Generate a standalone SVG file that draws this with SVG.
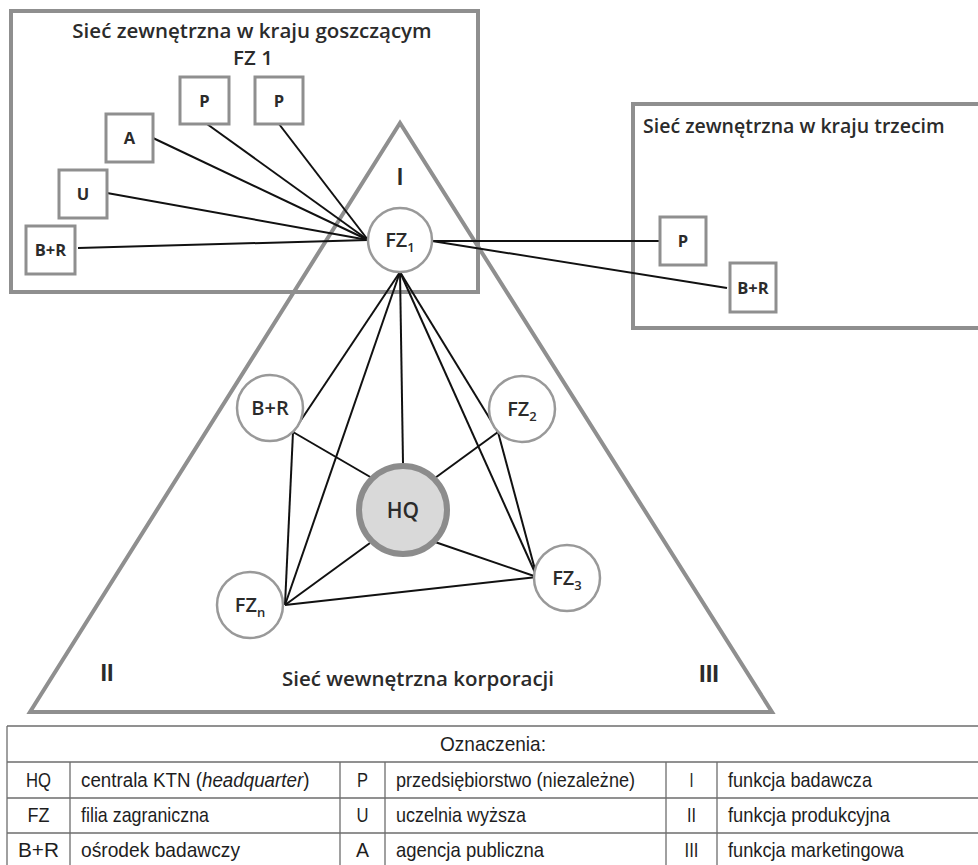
<svg xmlns="http://www.w3.org/2000/svg" width="978" height="865" viewBox="0 0 978 865">
<style>
.frame{fill:none;stroke:#8f8f8f;stroke-width:4}
.tri{fill:none;stroke:#8f8f8f;stroke-width:4;stroke-linejoin:miter}
.box{fill:#fff;stroke:#8f8f8f;stroke-width:3}
.circ{fill:#fff;stroke:#999;stroke-width:2.5}
.hq{fill:#d9d9d9;stroke:#8c8c8c;stroke-width:6}
.conn{stroke:#111;stroke-width:2;fill:none}
.t{font-family:"Open Sans","Liberation Sans",sans-serif;font-weight:600;fill:#2b2b2b}
.title{font-size:20.5px}
.blab{font-size:16.5px;font-weight:700;text-anchor:middle}
.clab{font-size:20px;text-anchor:middle}
.rom{font-family:"Liberation Sans",sans-serif;font-weight:700;font-size:23px;fill:#2b2b2b;text-anchor:middle}
.grid{stroke:#6e6e6e;stroke-width:1.3;fill:none}
.tt{font-family:"Liberation Sans",sans-serif;font-size:21px;fill:#1e1e1e}
.c{text-anchor:middle}
</style>

<g id="triangle">
<polygon class="tri" points="400,123 30,712 772,712"/>
</g>

<g id="host-network">
<rect class="frame" x="11" y="11" width="467" height="281"/>
<text class="t title" x="252" y="38" text-anchor="middle">Sieć zewnętrzna w kraju goszczącym</text>
<text class="t title" x="253" y="65" text-anchor="middle">FZ 1</text>
</g>

<g id="third-network">
<rect class="frame" x="633" y="104" width="360" height="224"/>
<text class="t" font-size="19.5" x="643" y="133">Sieć zewnętrzna w kraju trzecim</text>
</g>

<g id="connectors">
<line class="conn" x1="207" y1="124" x2="368" y2="240"/>
<line class="conn" x1="279" y1="124" x2="368" y2="240"/>
<line class="conn" x1="153" y1="138" x2="368" y2="240"/>
<line class="conn" x1="107" y1="193" x2="368" y2="240"/>
<line class="conn" x1="78" y1="248" x2="368" y2="240"/>
<line class="conn" x1="432" y1="241" x2="660" y2="241"/>
<line class="conn" x1="432" y1="241" x2="727" y2="288"/>
<line class="conn" x1="400" y1="272" x2="293" y2="432"/>
<line class="conn" x1="400" y1="272" x2="285" y2="605"/>
<line class="conn" x1="400" y1="272" x2="403" y2="463"/>
<line class="conn" x1="400" y1="272" x2="537" y2="577"/>
<line class="conn" x1="400" y1="272" x2="498" y2="432"/>
<line class="conn" x1="293" y1="432" x2="372" y2="478"/>
<line class="conn" x1="293" y1="432" x2="285" y2="605"/>
<line class="conn" x1="498" y1="432" x2="435" y2="478"/>
<line class="conn" x1="498" y1="432" x2="537" y2="577"/>
<line class="conn" x1="285" y1="605" x2="370" y2="543"/>
<line class="conn" x1="285" y1="605" x2="537" y2="577"/>
<line class="conn" x1="537" y1="577" x2="435" y2="542"/>
</g>

<g id="box-P1"><rect class="box" x="180" y="77" width="49" height="47"/><text class="t blab" x="204.5" y="107">P</text></g>
<g id="box-P2"><rect class="box" x="255" y="77" width="48" height="47"/><text class="t blab" x="279" y="107">P</text></g>
<g id="box-A"><rect class="box" x="106" y="114" width="47" height="48"/><text class="t blab" x="129.5" y="144">A</text></g>
<g id="box-U"><rect class="box" x="59" y="170" width="48" height="48"/><text class="t blab" x="83" y="200">U</text></g>
<g id="box-BR1"><rect class="box" x="26" y="226" width="49" height="48"/><text class="t blab" x="50.5" y="256">B+R</text></g>

<g id="box-P3"><rect class="box" x="660" y="217" width="46" height="48"/><text class="t blab" x="683" y="247">P</text></g>
<g id="box-BR2"><rect class="box" x="730" y="263" width="46" height="49"/><text class="t blab" x="753" y="293.5">B+R</text></g>

<g id="node-FZ1"><circle class="circ" cx="400" cy="240" r="32"/><text class="t clab" x="400" y="247">FZ<tspan font-size="13" dy="5">1</tspan></text></g>
<g id="node-BR"><circle class="circ" cx="270" cy="408" r="33"/><text class="t clab" x="270" y="415">B+R</text></g>
<g id="node-FZ2"><circle class="circ" cx="522" cy="409" r="33"/><text class="t clab" x="522" y="416">FZ<tspan font-size="13" dy="5">2</tspan></text></g>
<g id="node-HQ"><circle class="hq" cx="403" cy="510" r="44"/><text class="t" x="403" y="518" font-size="21" text-anchor="middle">HQ</text></g>
<g id="node-FZ3"><circle class="circ" cx="567" cy="578" r="33"/><text class="t clab" x="567" y="585">FZ<tspan font-size="13" dy="5">3</tspan></text></g>
<g id="node-FZn"><circle class="circ" cx="250" cy="605" r="33"/><text class="t clab" x="250" y="612">FZ<tspan font-size="13" dy="5">n</tspan></text></g>

<g id="labels">
<text class="rom" x="400" y="185" font-size="18" textLength="6" lengthAdjust="spacingAndGlyphs">I</text>
<text class="rom" x="107" y="681" textLength="13" lengthAdjust="spacingAndGlyphs">II</text>
<text class="rom" x="709" y="682" textLength="20" lengthAdjust="spacingAndGlyphs">III</text>
<text class="t title" x="418" y="686" text-anchor="middle">Sieć wewnętrzna korporacji</text>
</g>

<g id="legend">
<path class="grid" d="M7,726H990M7,762H990M7,798H990M7,833H990M7,726V870M70,762V870M340,762V870M385,762V870M666,762V870M717,762V870"/>
<text class="tt c" x="493" y="751" textLength="106" lengthAdjust="spacingAndGlyphs">Oznaczenia:</text>
<text class="tt c" x="38.5" y="787" textLength="25" lengthAdjust="spacingAndGlyphs">HQ</text>
<text class="tt" transform="matrix(0.894 0 0 1 81 787)">centrala KTN (<tspan font-style="italic">headquarter</tspan>)</text>
<text class="tt c" x="362.5" y="787" textLength="11" lengthAdjust="spacingAndGlyphs">P</text>
<text class="tt" x="396" y="787" textLength="239" lengthAdjust="spacingAndGlyphs">przedsiębiorstwo (niezależne)</text>
<text class="tt c" x="691.5" y="787" textLength="4" lengthAdjust="spacingAndGlyphs">I</text>
<text class="tt" x="728" y="787" textLength="144" lengthAdjust="spacingAndGlyphs">funkcja badawcza</text>
<text class="tt c" x="38.5" y="822" textLength="22" lengthAdjust="spacingAndGlyphs">FZ</text>
<text class="tt" x="81" y="822" textLength="128" lengthAdjust="spacingAndGlyphs">filia zagraniczna</text>
<text class="tt c" x="362.5" y="822" textLength="12" lengthAdjust="spacingAndGlyphs">U</text>
<text class="tt" x="396" y="822" textLength="130" lengthAdjust="spacingAndGlyphs">uczelnia wyższa</text>
<text class="tt c" x="691.5" y="822" textLength="9" lengthAdjust="spacingAndGlyphs">II</text>
<text class="tt" x="728" y="822" textLength="162" lengthAdjust="spacingAndGlyphs">funkcja produkcyjna</text>
<text class="tt c" x="38.5" y="857" textLength="41" lengthAdjust="spacingAndGlyphs">B+R</text>
<text class="tt" x="81" y="857" textLength="159" lengthAdjust="spacingAndGlyphs">ośrodek badawczy</text>
<text class="tt c" x="362.5" y="857" textLength="13" lengthAdjust="spacingAndGlyphs">A</text>
<text class="tt" x="396" y="857" textLength="148" lengthAdjust="spacingAndGlyphs">agencja publiczna</text>
<text class="tt c" x="691.5" y="857" textLength="14" lengthAdjust="spacingAndGlyphs">III</text>
<text class="tt" x="728" y="857" textLength="176" lengthAdjust="spacingAndGlyphs">funkcja marketingowa</text>
</g>
</svg>
